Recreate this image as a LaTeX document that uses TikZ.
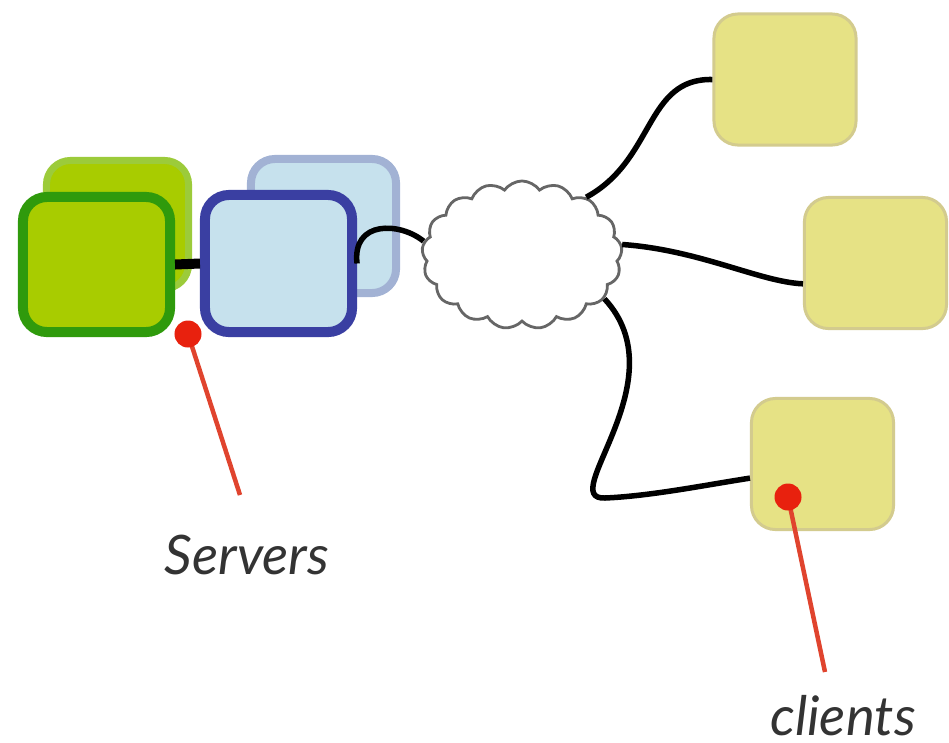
\documentclass[tikz,border=0pt]{standalone}
\usepackage{fontspec}
\setmainfont{Lato}
\usetikzlibrary{shapes.symbols}
\definecolor{srvfill}{HTML}{A8CC00}
\definecolor{srvedge}{HTML}{2F9A0C}
\definecolor{srvedgeback}{HTML}{9CCB3A}
\definecolor{webfill}{HTML}{C6E1ED}
\definecolor{webedge}{HTML}{3A3FA2}
\definecolor{webedgeback}{HTML}{A2B2D4}
\definecolor{clifill}{HTML}{E6E285}
\definecolor{cliedge}{HTML}{D3CB8E}
\definecolor{pinred}{HTML}{E8210E}
\definecolor{pinline}{HTML}{E0442E}
\begin{document}
\begin{tikzpicture}[x=0.01cm,y=-0.01cm,
  box/.style={rectangle,rounded corners=0.24cm,inner sep=0pt},
  server/.style={box,fill=srvfill,draw=srvedge,line width=0.1cm,minimum width=1.47cm,minimum height=1.35cm},
  serverback/.style={box,fill=srvfill,draw=srvedgeback,line width=0.07cm,minimum width=1.42cm,minimum height=1.28cm},
  web/.style={box,fill=webfill,draw=webedge,line width=0.1cm,minimum width=1.47cm,minimum height=1.37cm},
  webback/.style={box,fill=webfill,draw=webedgeback,line width=0.08cm,minimum width=1.45cm,minimum height=1.34cm},
  client/.style={box,fill=clifill,draw=cliedge,line width=0.03cm,minimum width=1.42cm,minimum height=1.31cm},
  wire/.style={line width=0.055cm,black},
  pin/.style={line width=0.045cm,pinline},
  pindot/.style={circle,fill=pinred,inner sep=0pt,minimum size=0.27cm},
  caption/.style={font=\fontsize{15.5}{18}\selectfont\itshape,text=black!80}]
\useasboundingbox (0,0) rectangle (949,742);

% server stack
\node[serverback] (srvB) at (117.5,224.5) {};
\node[webback] (webB) at (323.5,226) {};
\node[server] (srvA) at (96.5,264.5) {};
\node[web] (webA) at (278.5,263.5) {};
\draw[line width=0.1cm] (srvA.east) -- (webA.west);

% network cloud
\node[cloud,cloud puffs=17,cloud puff arc=110,draw=black!60,fill=white,line width=0.028cm,
      minimum width=2.0cm,minimum height=1.48cm,inner sep=0pt] (net) at (522,255) {};

% clients
\node[client] (c1) at (785,79.5) {};
\node[client] (c2) at (875.5,263) {};
\node[client] (c3) at (822.5,464) {};

% wires
\draw[wire] (webA.east) .. controls (352,220) and (400,222) .. (net.172);
\draw[wire] (net.42) .. controls (655,160) and (645,78) .. (c1.west);
\draw[wire] (net.6) .. controls (700,250) and (760,282) .. (c2.196);
\draw[wire] (net.-28) .. controls (680,380) and (555,500) .. (605,498)
               .. controls (650,496) and (700,486) .. (c3.191);

% labels with pointers
\coordinate (srvpin) at (188,334);
\coordinate (srvtip) at (240,495);
\node[caption] (srvlabel) at (247,555) {Servers};
\draw[pin] (srvpin) -- (srvtip);
\node[pindot] (srvdot) at (srvpin) {};

\coordinate (clipin) at (788,497);
\coordinate (clitip) at (825,672);
\node[caption] (clilabel) at (843,716) {clients};
\draw[pin] (clipin) -- (clitip);
\node[pindot] (clidot) at (clipin) {};
\end{tikzpicture}
\end{document}
